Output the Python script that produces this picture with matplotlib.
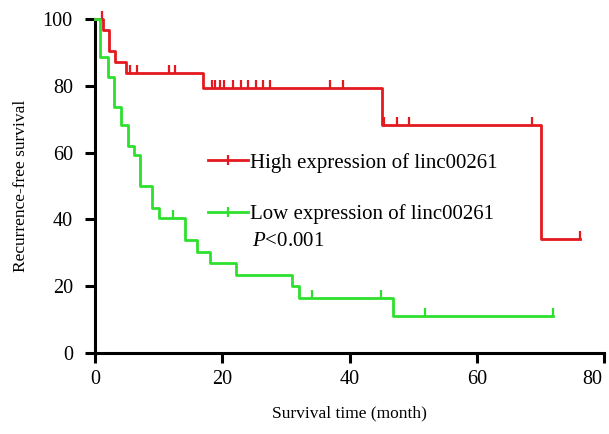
import numpy as np
import matplotlib
matplotlib.use("Agg")
import matplotlib.pyplot as plt
import matplotlib.transforms as mtransforms
from matplotlib.lines import Line2D

# Kaplan-Meier steps (time in months, survival in %)
high_t = [0, 1.3, 2.2, 3.2, 4.8, 17.0, 45.1, 70.1, 76.2]
high_s = [100, 96.8, 90.3, 87.1, 83.9, 79.3, 68.3, 34.1, 34.1]
high_cens = [1.1, 5.5, 6.6, 11.6, 12.6, 18.4, 18.9, 19.7, 20.3, 21.7, 23.0,
             24.1, 25.3, 26.4, 27.5, 37.0, 39.0, 45.4, 47.5, 49.3, 68.7, 76.2]

low_t = [0, 0.8, 2.1, 3.0, 4.1, 5.2, 6.2, 7.1, 8.9, 10.1, 14.2, 16.0, 18.0,
         22.1, 30.9, 32.0, 46.9, 71.9]
low_s = [100, 88.5, 82.7, 73.8, 68.3, 62.0, 59.3, 50.0, 43.3, 40.3, 33.8,
         30.3, 26.8, 23.4, 19.9, 16.4, 11.1, 11.1]
low_cens = [12.2, 34.1, 45.0, 51.9, 71.9]

labels = ["High expression of linc00261", "Low expression of linc00261"]
colors = ["#e3191f", "#2ee02e"]

plt.rcParams['font.family'] = ['Liberation Serif', 'DejaVu Serif']
plt.rcParams['mathtext.fontset'] = 'custom'
plt.rcParams['mathtext.it'] = 'Liberation Serif:italic'
plt.rcParams['mathtext.rm'] = 'Liberation Serif'


def surv_at(t, times, surv):
    i = np.searchsorted(times, t, side='right') - 1
    return surv[i]


fig = plt.figure(figsize=(6.09, 4.34), dpi=100)
ax = fig.add_axes([0.156, 0.187, 0.836, 0.769])

handles = []
for tt, ss, cc, col, lab in [(high_t, high_s, high_cens, colors[0], labels[0]),
                             (low_t, low_s, low_cens, colors[1], labels[1])]:
    ax.step(tt, ss, where='post', color=col, lw=2, clip_on=False, zorder=3)
    cy = [surv_at(c, np.array(tt), ss) for c in cc]
    ax.plot(cc, cy, ls='none', marker=2, ms=6, mew=1.6, color=col,
            clip_on=False, zorder=3)
    handles.append(Line2D([], [], color=col, lw=2, marker='|', ms=7,
                          mew=1.6, label=lab))

ax.set_xlim(0, 80)
ax.set_ylim(0, 100)
ax.set_xticks([0, 20, 40, 60, 80])
ax.set_yticks([0, 20, 40, 60, 80, 100])
for s in ['top', 'right']:
    ax.spines[s].set_visible(False)
for s in ['left', 'bottom']:
    ax.spines[s].set_linewidth(2.2)
ax.tick_params(axis='both', length=7, width=2.2, labelsize=14.5)
ax.tick_params(axis='x', pad=5)
ax.tick_params(axis='y', pad=9)

# last x label sits a bit left in the original (edge of the image)
lab80 = ax.get_xticklabels()[-1]
lab80.set_transform(lab80.get_transform() +
                    mtransforms.ScaledTranslation(-0.12, 0, fig.dpi_scale_trans))

ax.set_xlabel("Survival time (month)", fontsize=12.5, labelpad=12)
ax.set_ylabel("Recurrence-free survival", fontsize=12.5, labelpad=10)

ax.legend(handles=handles, loc='upper left', bbox_to_anchor=(0.222, 0.60),
          frameon=False, fontsize=15, handlelength=1.9, handletextpad=0.12,
          labelspacing=1.54, borderpad=0, borderaxespad=0, numpoints=1)
ax.text(0.308, 0.335, "$\\mathit{P}$<0.001", transform=ax.transAxes,
        fontsize=15, va='center', ha='left')

fig.savefig("out.png", dpi=100)
